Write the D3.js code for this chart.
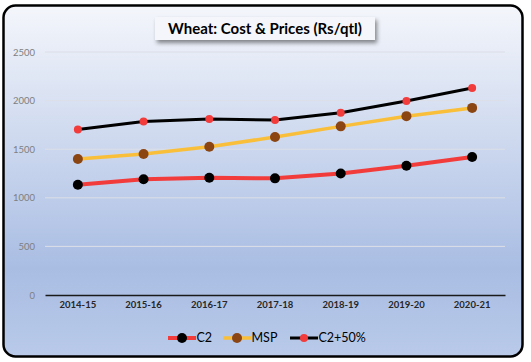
<!DOCTYPE html>
<html><head><meta charset="utf-8">
<script src="https://cdn.jsdelivr.net/npm/d3@7"></script>
<style>body{margin:0;background:#fff;} svg{display:block;}</style>
</head><body>
<script>
const categories = ["2014-15","2015-16","2016-17","2017-18","2018-19","2019-20","2020-21"];
const c2 = [1135, 1190, 1207, 1200, 1250, 1330, 1420];
const msp = [1400, 1450, 1525, 1625, 1735, 1840, 1925];
const c2plus50 = [1703, 1785, 1811, 1800, 1875, 1995, 2130];
const yTicks = [0, 500, 1000, 1500, 2000, 2500];
const seriesNames = ["C2", "MSP", "C2+50%"];
const title = "Wheat: Cost & Prices (Rs/qtl)";

const W = 531, H = 362;
const svg = d3.select("body").append("svg").attr("width", W).attr("height", H);
const defs = svg.append("defs");
const grad = defs.append("linearGradient").attr("id","bg").attr("x1",0).attr("y1",0).attr("x2",0).attr("y2",1);
grad.append("stop").attr("offset","0%").attr("stop-color","#f4f6fb");
grad.append("stop").attr("offset","75%").attr("stop-color","#a9bde3");
grad.append("stop").attr("offset","100%").attr("stop-color","#b9cae9");
const sh = defs.append("filter").attr("id","sh").attr("x","-10%").attr("y","-20%").attr("width","130%").attr("height","170%");
sh.append("feDropShadow").attr("dx",2).attr("dy",3).attr("stdDeviation",2).attr("flood-color","#000").attr("flood-opacity",0.45);

svg.append("rect").attr("x",3.5).attr("y",5.5).attr("width",519).attr("height",351)
  .attr("rx",12).attr("fill","url(#bg)").attr("stroke","#000").attr("stroke-width",2.5);

const x = d3.scaleBand().domain(categories).range([45, 505]);
const y = d3.scaleLinear().domain([0, 2500]).range([295, 52]);

// gridlines
svg.append("g").selectAll("line").data(yTicks.filter(d=>d>0)).join("line")
  .attr("x1",45).attr("x2",505).attr("y1",d=>y(d)).attr("y2",d=>y(d))
  .attr("stroke","#dcdfe6").attr("stroke-width",1);

// y axis
const yAxis = d3.axisLeft(y).tickValues(yTicks).tickFormat(d3.format("d")).tickSize(0).tickPadding(0);
const gy = svg.append("g").attr("transform","translate(35,0)").call(yAxis);
gy.select(".domain").remove();
gy.selectAll("text").attr("fill","#7f7f7f").style("font-family","Lato, 'Open Sans', sans-serif").style("font-size","9.5px");

// x axis
const xAxis = d3.axisBottom(x).tickSize(0).tickPadding(0);
const gx = svg.append("g").attr("transform","translate(0,295)").call(xAxis);
gx.select(".domain").attr("stroke","#1a1a1a").attr("stroke-width",1.5);
gx.selectAll("text").attr("fill","#262626").attr("dy","1.35em").style("font-family","Lato, 'Open Sans', sans-serif").style("font-size","9.5px").style("font-weight","bold");

const series = [
  {name: seriesNames[0], values: c2, line: "#f23c3c", lw: 4, mark: "#000000", r: 5},
  {name: seriesNames[1], values: msp, line: "#f9bf3b", lw: 3.5, mark: "#8b4513", r: 5},
  {name: seriesNames[2], values: c2plus50, line: "#000000", lw: 3, mark: "#f23c3c", r: 4}
];
const cx = c => x(c) + x.bandwidth()/2;
const line = d3.line().x((d,i)=>cx(categories[i])).y(d=>y(d));
series.forEach(s=>{
  svg.append("path").datum(s.values).attr("d",line).attr("fill","none")
    .attr("stroke",s.line).attr("stroke-width",s.lw).attr("stroke-linejoin","round").attr("stroke-linecap","round");
});
series.forEach(s=>{
  svg.append("g").selectAll("circle").data(s.values).join("circle")
    .attr("cx",(d,i)=>cx(categories[i])).attr("cy",d=>y(d)).attr("r",s.r).attr("fill",s.mark);
});

// legend
const legX = [168, 223, 290];
const lg = svg.append("g");
series.forEach((s,i)=>{
  const g = lg.append("g").attr("transform",`translate(${legX[i]},338)`);
  g.append("line").attr("x1",0).attr("x2",28).attr("y1",0).attr("y2",0).attr("stroke",s.line).attr("stroke-width",s.lw);
  g.append("circle").attr("cx",14).attr("cy",0).attr("r",s.r).attr("fill",s.mark);
  g.append("text").attr("x",28.5).attr("y",0).attr("dy","0.35em").text(s.name)
    .attr("fill","#000").style("font-family","Lato, 'Open Sans', sans-serif").style("font-size","12.5px");
});

// title
const tg = svg.append("g");
tg.append("rect").attr("x",155).attr("y",17).attr("width",220).attr("height",23).attr("fill","#f4f6fb").attr("filter","url(#sh)");
tg.append("text").attr("x",265).attr("y",28.5).attr("dy","0.35em").attr("text-anchor","middle").text(title)
  .attr("fill","#000").style("font-family","Lato, 'Open Sans', sans-serif").style("font-size","15px").style("font-weight","bold");
</script>
</body></html>
